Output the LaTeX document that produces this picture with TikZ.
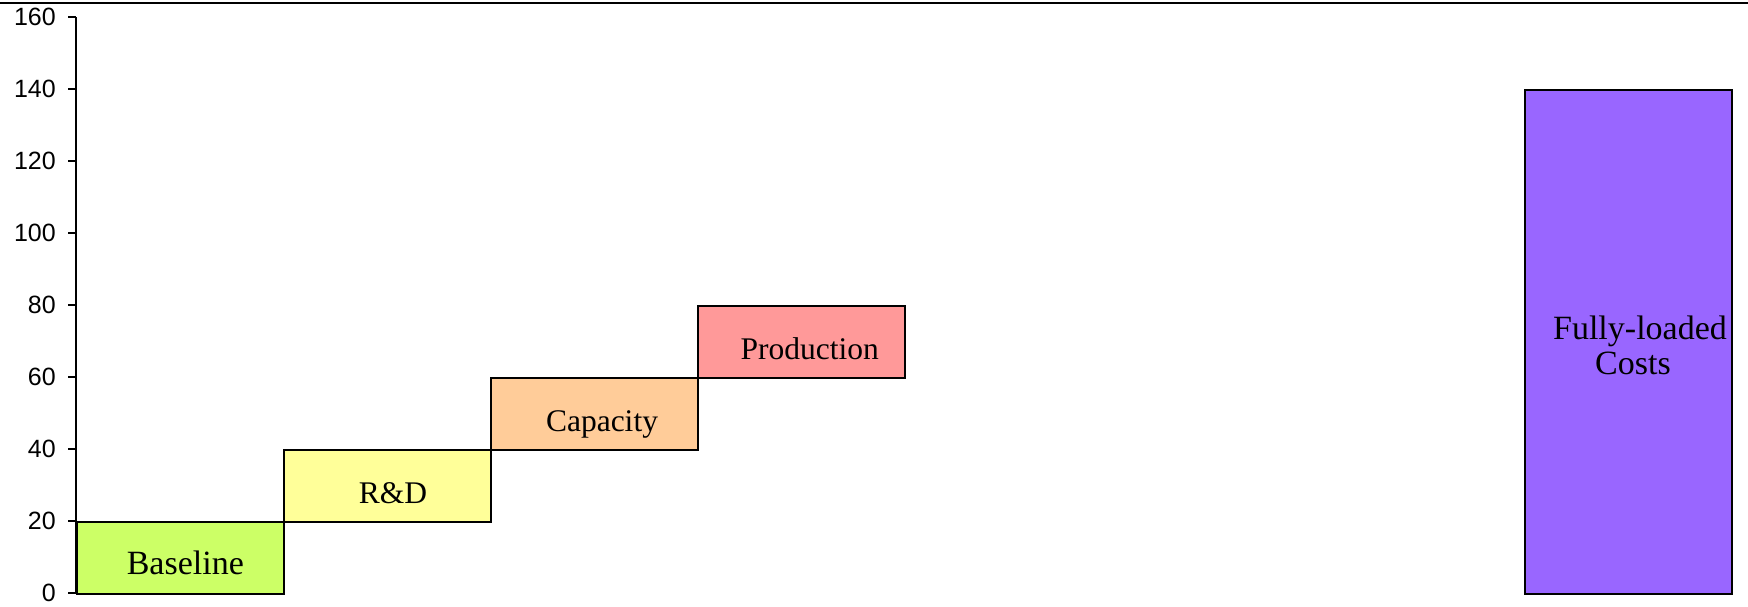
\documentclass[tikz,border=0pt]{standalone}
\usepackage{fontspec}
\setmainfont{Liberation Serif}
\newfontfamily\axisfont{Liberation Sans}
\definecolor{stepgreen}{HTML}{CCFF66}
\definecolor{stepyellow}{HTML}{FFFF99}
\definecolor{steporange}{HTML}{FFCC99}
\definecolor{steppink}{HTML}{FF9999}
\definecolor{totalpurple}{HTML}{9966FF}
\begin{document}
\begin{tikzpicture}[x=1pt,y=-1pt,
  bar/.style={draw=black,line width=2pt,inner sep=0pt,anchor=north west,
    minimum width=207pt},
  barlabel/.style={anchor=base,inner sep=0pt,font=\fontsize{31.5}{33}\selectfont},
  biglabel/.style={anchor=base,inner sep=0pt,font=\fontsize{34}{36}\selectfont},
  tick/.style={line width=2pt},
  ticklabel/.style={anchor=east,inner sep=0pt,font=\axisfont\fontsize{25}{27}\selectfont}]
\useasboundingbox (0,0) rectangle (1748,606);

% rule along the top edge
\draw[line width=2pt] (0,3) -- (1748,3);

% vertical axis, 0..160 in steps of 20 (3.6pt per unit)
\draw[line width=2pt] (76,17.3) -- (76,593.3);
\foreach \v in {0,20,...,160}{
  \pgfmathsetmacro\yy{593.3-3.6*\v}
  \draw[tick] (68,\yy) -- (76,\yy);
  \node[ticklabel] at (56,\yy) {\v};
}

% cumulative cost steps
\node[bar,fill=stepgreen,minimum height=72pt] (baseline) at (76,521.3) {};
\node[bar,fill=stepyellow,minimum height=72pt] (rnd) at (283,449.3) {};
\node[bar,fill=steporange,minimum height=72pt] (capacity) at (490,377.3) {};
\node[bar,fill=steppink,minimum height=72pt] (production) at (697,305.3) {};

% total bar
\node[bar,fill=totalpurple,minimum height=504pt] (total) at (1524,89.3) {};

% labels
\node[biglabel] (tbaseline) at (185.3,574) {Baseline};
\node[barlabel] (trnd) at (393,503.3) {R\&D};
\node[barlabel] (tcapacity) at (602,431) {Capacity};
\node[barlabel] (tproduction) at (809.7,359) {Production};
\node[biglabel] (ttotalA) at (1640,339) {Fully-loaded};
\node[biglabel] (ttotalB) at (1633,374) {Costs};
\end{tikzpicture}
\end{document}
